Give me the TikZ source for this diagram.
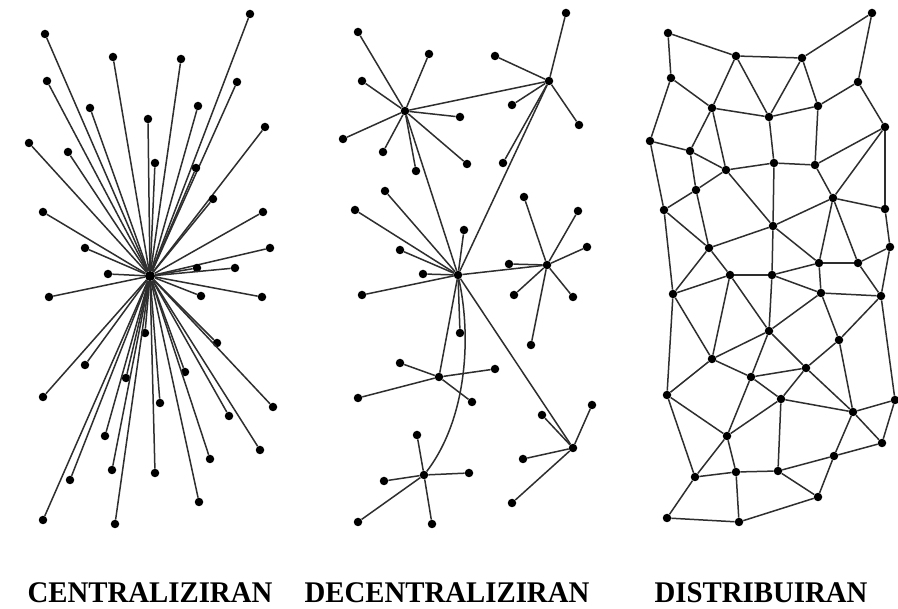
\documentclass[tikz,border=0pt]{standalone}
\usepackage{fontspec}
\usepackage{graphicx}
\setmainfont{Liberation Serif}
\begin{document}
\begin{tikzpicture}[x=1pt,y=-1pt,
  dot/.style={circle,fill=black,inner sep=0pt,minimum size=8.5pt},
  hubdot/.style={circle,fill=black,inner sep=0pt,minimum size=10pt},
  edge/.style={draw=black!82,line width=1.5pt},
  lbl/.style={anchor=base,inner sep=0pt,font=\bfseries\fontsize{30}{30}\selectfont}]
\fill[white] (0,0) rectangle (898,609);
\useasboundingbox (0,0) rectangle (898,609);
% ---------- centralized ----------
\node[hubdot] (H) at (150,276) {};
\foreach \n/\x/\y in {U1/250/14,U2/45/34,U3/113/57,U4/181/59,U5/47/81,U6/237/82,U7/90/108,U8/198/106,U9/148/119,U10/265/127,U11/29/143,U12/68/152,U13/155/163,U14/196/168,U15/213/199,U16/43/212,U17/263/212,U18/85/248,U19/270/248,
 L1/108/274,L2/197/268,L3/235/268,L4/49/297,L5/201/296,L6/262/297,L7/145/333,L8/217/343,L9/85/365,L10/126/378,L11/185/372,L12/43/397,L13/160/403,L14/273/407,L15/229/416,L16/105/436,L17/260/450,L18/210/459,L19/112/470,L20/155/473,L21/70/480,L22/199/502,L23/43/520,L24/115/524}
  {\node[dot] (\n) at (\x,\y) {};
   \draw[edge] (H) -- (\n);}
% ---------- decentralized ----------
\foreach \n/\x/\y in {A/405/111,B/549/81,C/547/265,D/458/275,E/439/377,F/573/448,G/424/475}
  {\node[dot] (\n) at (\x,\y) {};}
\foreach \h/\n/\x/\y in {A/a1/358/32,A/a2/429/54,A/a3/362/81,A/a4/460/117,A/a5/343/139,A/a6/383/152,A/a7/467/164,A/a8/416/171,
 B/b1/566/13,B/b2/495/56,B/b3/512/105,B/b4/579/125,B/b5/503/163,
 D/d1/385/191,D/d2/355/210,D/d3/464/230,D/d4/400/250,D/d5/423/274,D/d6/362/295,D/d7/460/333,
 C/c1/524/197,C/c2/578/211,C/c3/587/247,C/c4/509/264,C/c5/514/295,C/c6/573/297,C/c7/531/345,
 E/e1/400/363,E/e2/495/369,E/e3/358/398,E/e4/472/402,
 F/f1/542/415,F/f2/592/405,F/f3/523/459,F/f4/512/503,
 G/g1/417/435,G/g2/384/481,G/g3/469/473,G/g4/358/522,G/g5/432/524}
  {\node[dot] (\n) at (\x,\y) {};
   \draw[edge] (\h) -- (\n);}
\foreach \a/\b in {A/B,A/D,B/D,D/C,D/E,D/F}
  {\draw[edge] (\a) -- (\b);}
\draw[edge] (D) .. controls (472,340) and (466,420) .. (G);
% ---------- distributed ----------
\foreach \n/\x/\y in {n1/668/33,n2/736/56,n3/802/58,n4/872/13,n5/671/78,n6/858/82,n7/712/108,n8/769/117,n9/818/106,n10/885/127,n11/650/141,n12/690/151,n13/726/170,n14/774/163,n15/815/165,n16/696/190,n17/833/198,n18/664/210,n19/885/209,n20/773/226,n21/709/248,n22/890/247,n23/819/263,n24/858/263,
 m3/730/275,m4/772/275,m5/673/294,m6/821/293,m7/881/296,m8/769/331,m9/839/340,m10/712/359,m11/806/368,m12/751/377,m13/667/395,m14/781/399,m15/895/400,m16/853/412,m17/727/436,m18/882/443,m19/834/456,m20/695/477,m21/736/472,m22/778/471,m23/818/497,m24/667/518,m25/739/522}
  {\node[dot] (\n) at (\x,\y) {};}
\foreach \a/\b in {n1/n2,n1/n5,n2/n3,n3/n4,n4/n6,n2/n7,n2/n8,n3/n8,n3/n9,n6/n9,n6/n10,n5/n7,n5/n11,n7/n8,n8/n9,n7/n12,n7/n13,n8/n14,n9/n15,n10/n15,n10/n17,n10/n19,n11/n12,n11/n18,n12/n13,n12/n16,n13/n16,n16/n18,n16/n21,n13/n14,n14/n15,n13/n20,n14/n20,n15/n17,n17/n20,n17/n19,n17/n23,n17/n24,n18/n21,n18/m5,n20/n21,n20/n23,n20/m4,n23/n24,n24/n22,n19/n22,n21/m5,n21/m3,n23/m6,n23/m4,n24/m7,n22/m7,
 m5/m3,m3/m4,m4/m6,m6/m7,m3/m8,m3/m10,m4/m8,m6/m8,m6/m9,m7/m9,m7/m15,m5/m10,m5/m13,m10/m8,m8/m12,m8/m11,m9/m11,m9/m16,m10/m13,m10/m12,m12/m14,m12/m11,m11/m14,m11/m16,m12/m17,m13/m17,m13/m20,m14/m17,m14/m22,m14/m16,m16/m15,m16/m18,m16/m19,m15/m18,m18/m19,m19/m22,m19/m23,m17/m20,m17/m21,m20/m21,m21/m22,m22/m23,m20/m24,m21/m25,m24/m25,m25/m23}
  {\draw[edge] (\a) -- (\b);}
% ---------- labels ----------
\node[lbl] (t1) at (150,603) {\scalebox{0.96}[1]{CENTRALIZIRAN}};
\node[lbl] (t2) at (447,603) {\scalebox{0.96}[1]{DECENTRALIZIRAN}};
\node[lbl] (t3) at (761,603) {\scalebox{0.96}[1]{DISTRIBUIRAN}};
\end{tikzpicture}
\end{document}
